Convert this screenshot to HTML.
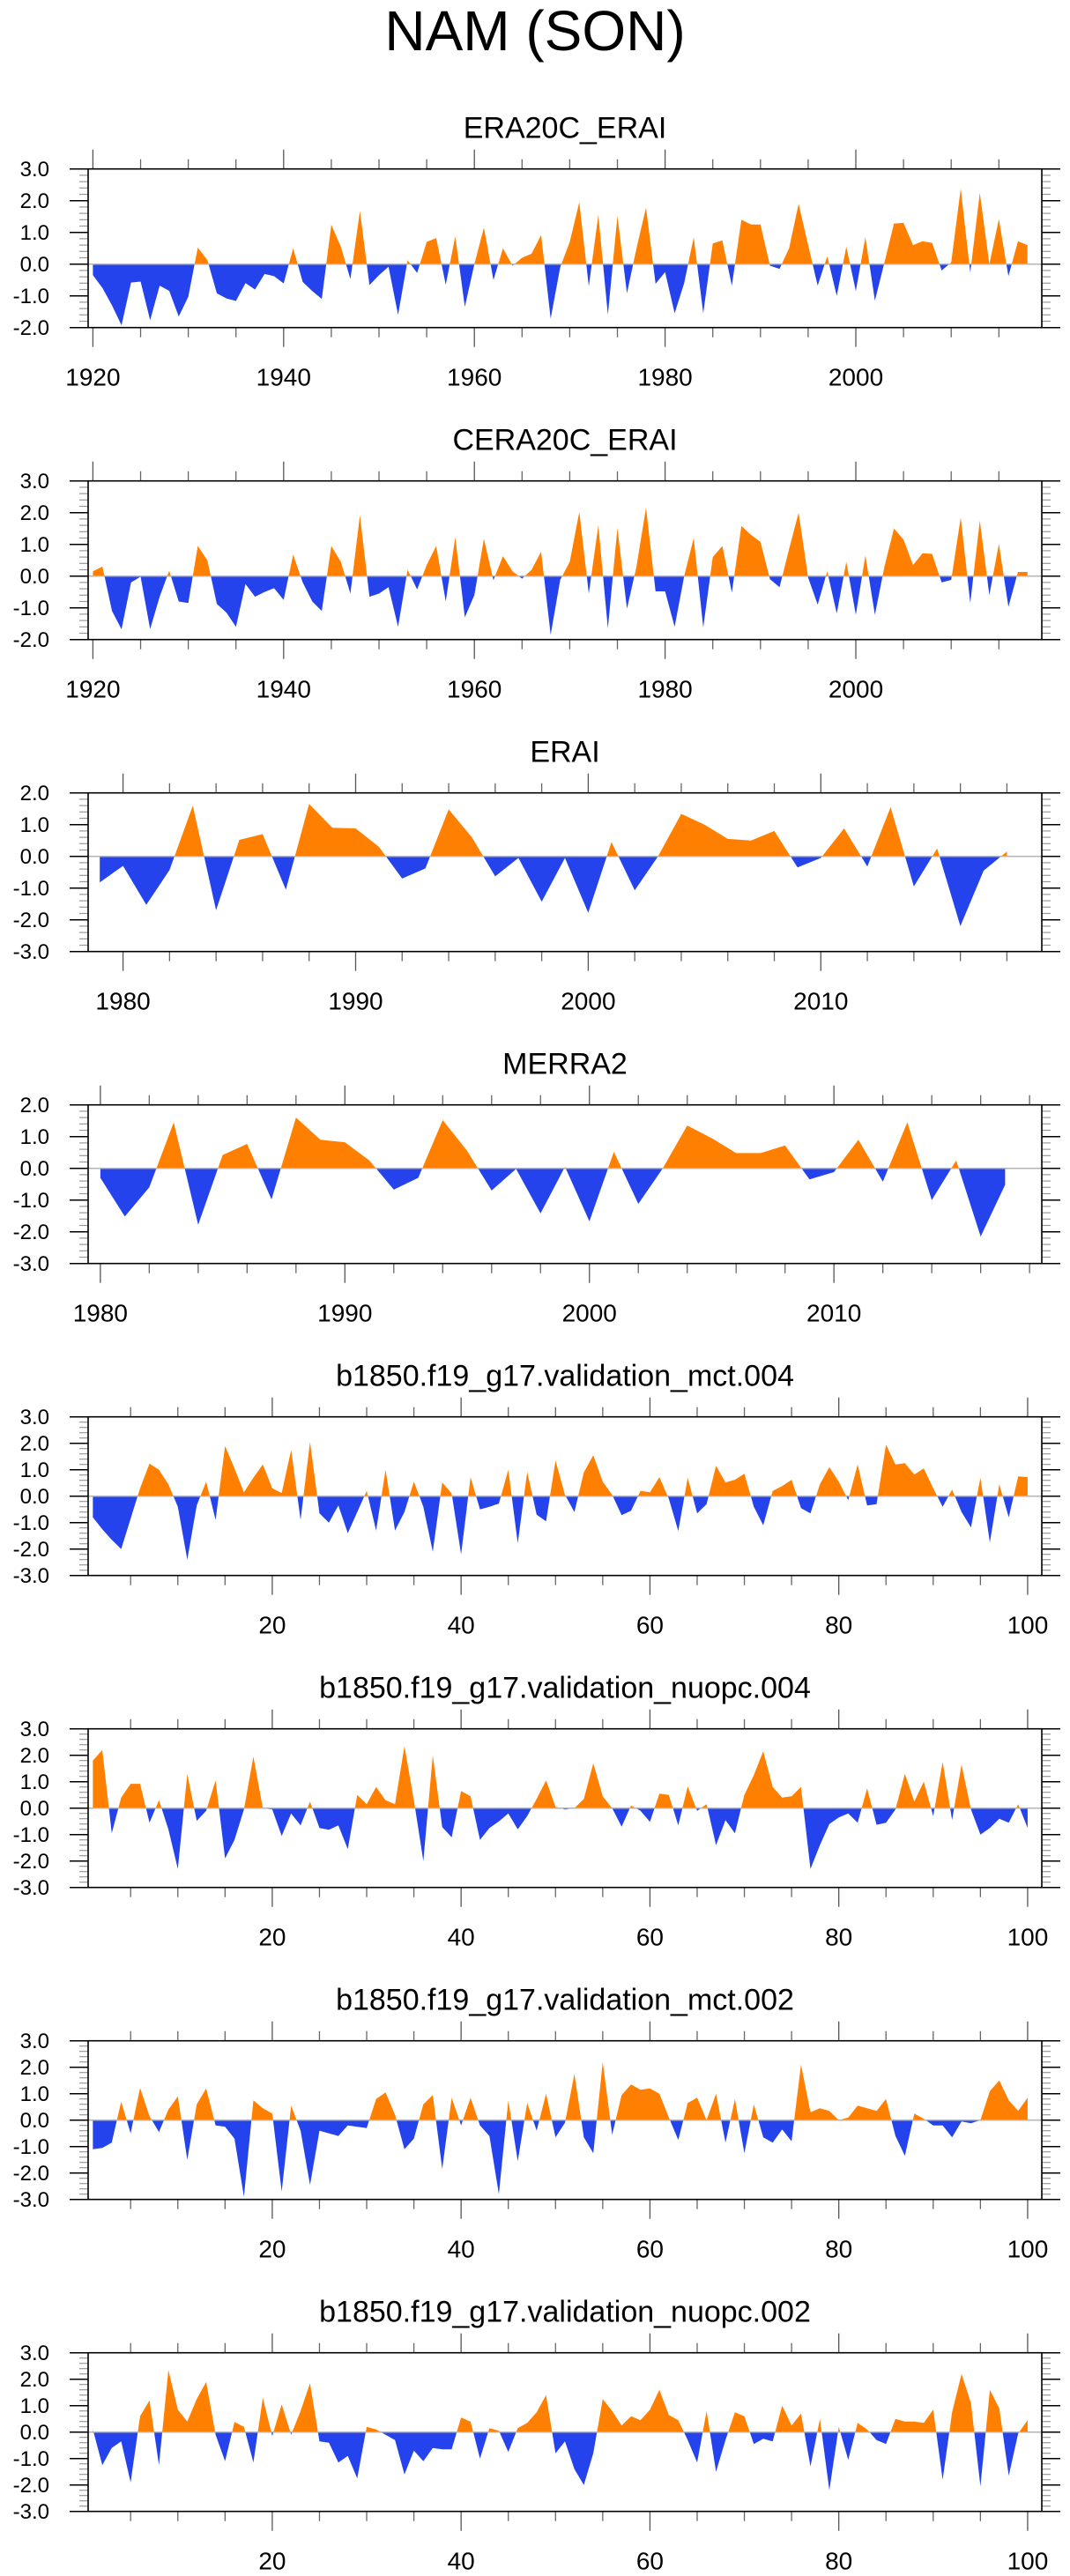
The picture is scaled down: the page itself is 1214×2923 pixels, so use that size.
<!DOCTYPE html>
<html><head><meta charset="utf-8"><title>NAM (SON)</title>
<style>
html,body{margin:0;padding:0;background:#fff;}
svg{display:block;font-family:"Liberation Sans",Arial,sans-serif;}
</style></head>
<body>
<svg id="chart" width="1214" height="2923" viewBox="0 0 1214 2923" xmlns="http://www.w3.org/2000/svg">
<text x="607" y="57" font-size="64" text-anchor="middle">NAM (SON)</text>
</svg>
<script>
// ---------- data ----------
const titles = ["ERA20C_ERAI","CERA20C_ERAI","ERAI","MERRA2",
  "b1850.f19_g17.validation_mct.004","b1850.f19_g17.validation_nuopc.004",
  "b1850.f19_g17.validation_mct.002","b1850.f19_g17.validation_nuopc.002"];
const startX = [1920,1920,1979,1980,1,1,1,1];
const xRange = [[1919.5,2019.5],[1919.5,2019.5],[1978.5,2019.5],[1979.5,2018.5],[0.5,101.5],[0.5,101.5],[0.5,101.5],[0.5,101.5]];
const yRange = [[-2,3],[-2,3],[-3,2],[-3,2],[-3,3],[-3,3],[-3,3],[-3,3]];
const xLabels = [[1920,1940,1960,1980,2000],[1920,1940,1960,1980,2000],[1980,1990,2000,2010],[1980,1990,2000,2010],[20,40,60,80,100],[20,40,60,80,100],[20,40,60,80,100],[20,40,60,80,100]];
const xMinorStep = [5,5,2,2,5,5,5,5];
const yLabels = ["-3.0","-2.0","-1.0","0.0","1.0","2.0","3.0"];

const era20c = [-0.35,-0.75,-1.3,-1.93,-0.58,-0.55,-1.77,-0.68,-0.84,-1.65,-1.03,0.52,0.13,-0.92,-1.08,-1.16,-0.6,-0.8,-0.31,-0.38,-0.61,0.5,-0.56,-0.85,-1.1,1.24,0.55,-0.47,1.68,-0.66,-0.35,-0.08,-1.6,0.12,-0.28,0.7,0.82,-0.65,0.88,-1.35,0.0,1.15,-0.5,0.5,-0.05,0.2,0.33,0.92,-1.72,-0.1,0.7,1.95,-0.7,1.55,-1.6,1.52,-0.92,0.5,1.78,-0.62,-0.25,-1.55,-0.6,0.85,-1.55,0.65,0.75,-0.68,1.4,1.25,1.25,-0.05,-0.15,0.5,1.9,0.6,-0.68,0.25,-1.0,0.55,-0.85,0.85,-1.15,0.05,1.28,1.3,0.6,0.72,0.67,-0.2,0.05,2.38,-0.27,2.25,0.0,1.42,-0.38,0.72,0.6];
const cera20c = [0.15,0.3,-1.1,-1.68,-0.2,-0.02,-1.67,-0.65,0.17,-0.8,-0.85,0.95,0.5,-0.88,-1.15,-1.6,-0.25,-0.65,-0.5,-0.38,-0.75,0.68,-0.2,-0.8,-1.1,0.95,0.45,-0.55,1.92,-0.65,-0.55,-0.35,-1.6,0.2,-0.42,0.35,0.95,-0.8,1.23,-1.3,-0.6,1.18,-0.13,0.63,0.15,-0.08,0.2,0.77,-1.85,-0.12,0.45,2.02,-0.55,1.6,-1.65,1.52,-1.03,0.3,2.16,-0.48,-0.48,-1.6,0.0,1.2,-1.62,0.6,0.95,-0.52,1.58,1.3,1.08,-0.1,-0.35,0.85,2.0,-0.05,-0.9,0.15,-1.18,0.45,-1.22,0.65,-1.22,0.3,1.5,1.15,0.35,0.72,0.7,-0.2,-0.12,1.85,-0.85,1.75,-0.6,1.02,-0.97,0.13,0.13];
const erai = [-0.82,-0.3,-1.53,-0.43,1.6,-1.7,0.52,0.7,-1.05,1.65,0.9,0.88,0.3,-0.7,-0.38,1.48,0.6,-0.63,-0.05,-1.43,-0.05,-1.78,0.45,-1.07,0.0,1.34,1.0,0.55,0.5,0.8,-0.35,-0.05,0.88,-0.32,1.55,-0.95,0.25,-2.2,-0.45,0.15];
const merra2 = [-0.3,-1.52,-0.6,1.45,-1.78,0.42,0.77,-0.98,1.6,0.9,0.82,0.25,-0.67,-0.3,1.52,0.55,-0.7,-0.02,-1.42,0.05,-1.67,0.52,-1.12,0.0,1.35,0.95,0.48,0.48,0.72,-0.35,-0.12,0.9,-0.42,1.45,-1.0,0.25,-2.15,-0.52];
const mct004 = [-0.8,-1.25,-1.65,-2.0,-0.85,0.3,1.23,1.0,0.45,-0.4,-2.4,-0.35,0.55,-0.9,1.9,1.05,0.15,0.7,1.2,0.3,0.12,1.75,-0.9,2.05,-0.65,-1.0,-0.35,-1.4,-0.6,0.2,-1.3,1.0,-1.3,-0.6,0.55,-0.4,-2.1,0.52,0.1,-2.2,0.72,-0.5,-0.4,-0.28,1.0,-1.78,0.92,-0.7,-0.95,1.35,0.05,-0.6,0.9,1.55,0.55,0.05,-0.72,-0.55,0.2,0.15,0.72,-0.1,-1.32,0.7,-0.65,-0.3,1.15,0.52,0.62,0.85,-0.4,-1.1,0.2,0.38,0.62,-0.45,-0.65,0.45,1.1,0.55,-0.15,1.2,-0.35,-0.3,1.95,1.2,1.25,0.82,1.05,0.3,-0.4,0.25,-0.6,-1.18,0.7,-1.75,0.45,-0.8,0.75,0.72];
const nuopc004 = [1.8,2.2,-0.95,0.4,0.92,0.92,-0.55,0.3,-0.8,-2.3,1.3,-0.48,-0.1,1.05,-1.9,-1.2,-0.05,1.95,0.0,-0.05,-1.05,-0.2,-0.65,0.25,-0.75,-0.82,-0.65,-1.55,0.5,0.15,0.8,0.3,0.15,2.35,0.3,-2.0,2.0,-0.72,-1.1,0.65,0.45,-1.2,-0.75,-0.5,-0.2,-0.8,-0.3,0.35,1.05,0.05,-0.05,0.0,0.35,1.7,0.45,0.0,-0.7,0.1,-0.1,-0.52,0.55,0.5,-0.65,0.82,-0.1,0.15,-1.4,-0.45,-0.95,0.5,1.25,2.15,0.8,0.4,0.45,0.8,-2.3,-1.4,-0.6,-0.35,-0.2,-0.55,0.75,-0.63,-0.55,-0.05,1.3,0.25,1.0,-0.3,1.75,-0.45,1.65,-0.05,-1.0,-0.75,-0.4,-0.55,0.15,-0.75];
const mct002 = [-1.1,-1.05,-0.85,0.7,-0.5,1.22,0.15,-0.45,0.4,0.9,-1.5,0.6,1.2,-0.2,-0.25,-0.7,-2.9,0.75,0.45,0.25,-2.7,0.55,-0.4,-2.45,-0.4,-0.5,-0.6,-0.2,-0.25,-0.3,0.8,1.05,0.2,-1.1,-0.7,0.6,0.95,-1.85,0.85,-0.2,0.85,-0.2,-0.6,-2.8,0.75,-1.55,0.65,-0.4,1.0,-0.65,-0.1,1.75,-0.65,-1.25,2.2,-0.55,0.95,1.35,1.15,1.2,1.0,0.1,-0.75,0.65,0.85,0.0,1.0,-0.85,0.8,-1.25,0.6,-0.65,-0.85,-0.35,-0.8,2.1,0.3,0.45,0.35,0.0,0.1,0.55,0.45,0.35,0.8,-0.6,-1.35,0.25,0.05,-0.2,-0.2,-0.65,-0.05,-0.12,0.0,1.1,1.5,0.75,0.35,0.85];
const nuopc002 = [0.1,-1.25,-0.6,-0.35,-1.9,0.6,1.2,-1.25,2.35,0.85,0.4,1.25,1.9,-0.1,-1.1,0.38,0.2,-1.15,1.3,-0.15,1.05,-0.1,0.8,1.85,-0.35,-0.4,-1.15,-0.9,-1.75,0.2,0.1,-0.1,-0.3,-1.6,-0.7,-1.1,-0.6,-0.65,-0.65,0.55,0.4,-1.0,0.15,0.05,-0.75,0.15,0.35,0.75,1.4,-0.8,-0.35,-1.4,-2.0,-0.8,1.25,0.8,0.25,0.6,0.45,0.85,1.6,0.65,0.45,-0.3,-1.15,0.8,-1.5,-0.3,0.75,0.6,-0.45,-0.25,-0.35,1.0,0.25,0.7,-1.3,0.5,-2.2,0.2,-1.05,0.35,0.1,-0.3,-0.45,0.5,0.4,0.4,0.35,0.85,-1.8,0.75,2.2,1.1,-2.05,1.6,0.9,-1.65,-0.05,0.45];
const series = [era20c,cera20c,erai,merra2,mct004,nuopc004,mct002,nuopc002];
const panelNames = ["era20c-erai","cera20c-erai","erai","merra2","mct-004","nuopc-004","mct-002","nuopc-002"];

// ---------- drawing ----------
const NS = "http://www.w3.org/2000/svg";
const svg = document.getElementById("chart");
const L = 100, R = 1182, H = 180, TOP0 = 191.7, GAP = 354;
const ORANGE = "#ff8000", BLUE = "#2443ec";
function mk(tag, attrs, parent){
  const e = document.createElementNS(NS, tag);
  for (const k in attrs) e.setAttribute(k, attrs[k]);
  (parent||svg).appendChild(e);
  return e;
}
const defs = mk("defs", {});

for (let p = 0; p < 8; p++){
  const T = TOP0 + GAP*p, B = T + H;
  const [x0, x1] = xRange[p], [y0, y1] = yRange[p];
  const xs = v => L + (v - x0) / (x1 - x0) * (R - L);
  const ys = v => B - (v - y0) / (y1 - y0) * H;
  const g = mk("g", {});
  
  

  const title = mk("text", {x: (L+R)/2, y: T - 35, "font-size": 34, "text-anchor": "middle"}, g);
  
  
  title.textContent = titles[p];

  // clip paths
  const z = ys(0);
  const cpA = mk("clipPath", {id: "ca" + p}, defs);
  mk("rect", {x: L, y: T, width: R - L, height: z - T}, cpA);
  const cpB = mk("clipPath", {id: "cb" + p}, defs);
  mk("rect", {x: L, y: z, width: R - L, height: B - z}, cpB);

  const data = series[p];
  let d = "M" + xs(startX[p]).toFixed(2) + "," + z.toFixed(2);
  data.forEach((v, i) => { d += " L" + xs(startX[p] + i).toFixed(2) + "," + ys(v).toFixed(2); });
  d += " L" + xs(startX[p] + data.length - 1).toFixed(2) + "," + z.toFixed(2) + " Z";
  const pos = mk("path", {d: d, fill: ORANGE, "clip-path": "url(#ca" + p + ")"}, g);
  
  
  const neg = mk("path", {d: d, fill: BLUE, "clip-path": "url(#cb" + p + ")"}, g);
  
  

  const zl = mk("line", {x1: L, x2: R, y1: z, y2: z, stroke: "#b4b4b4", "stroke-width": 1.5}, g);
  
  

  // y ticks
  for (let v = y0; v <= y1 + 1e-6; v += 0.2){
    const vv = Math.round(v*10)/10;
    const y = ys(vv);
    const major = Math.abs(vv - Math.round(vv)) < 1e-6;
    const len = major ? 21 : 10;
    const col = major ? "#000" : "#999";
    mk("line", {x1: L - len, x2: L, y1: y, y2: y, stroke: col, "stroke-width": major?1.5:1.2}, g);
    mk("line", {x1: R, x2: R + len, y1: y, y2: y, stroke: col, "stroke-width": major?1.5:1.2}, g);
    if (major){
      const lab = yLabels.find(s => Math.abs(parseFloat(s) - vv) < 1e-6);
      const t = mk("text", {x: 56, y: y + 8.5, "font-size": 24, "text-anchor": "end"}, g);
      
      
      t.textContent = lab;
    }
  }
  // x ticks
  const step = xMinorStep[p];
  const first = Math.ceil(x0 / step) * step;
  for (let v = first; v <= x1; v += step){
    const x = xs(v);
    const major = xLabels[p].includes(v);
    const len = major ? 22 : 11;
    const col = major ? "#555" : "#666";
    mk("line", {x1: x, x2: x, y1: B, y2: B + len, stroke: col, "stroke-width": 1.3}, g);
    mk("line", {x1: x, x2: x, y1: T - len, y2: T, stroke: col, "stroke-width": 1.3}, g);
  }
  xLabels[p].forEach(v => {
    const t = mk("text", {x: xs(v), y: B + 66, "font-size": 28, "text-anchor": "middle"}, g);
    
    
    t.textContent = String(v);
  });
  const fr = mk("rect", {x: L, y: T, width: R - L, height: H, fill: "none", stroke: "#000", "stroke-width": 1.6}, g);
  
  
}
</script>
</body></html>
